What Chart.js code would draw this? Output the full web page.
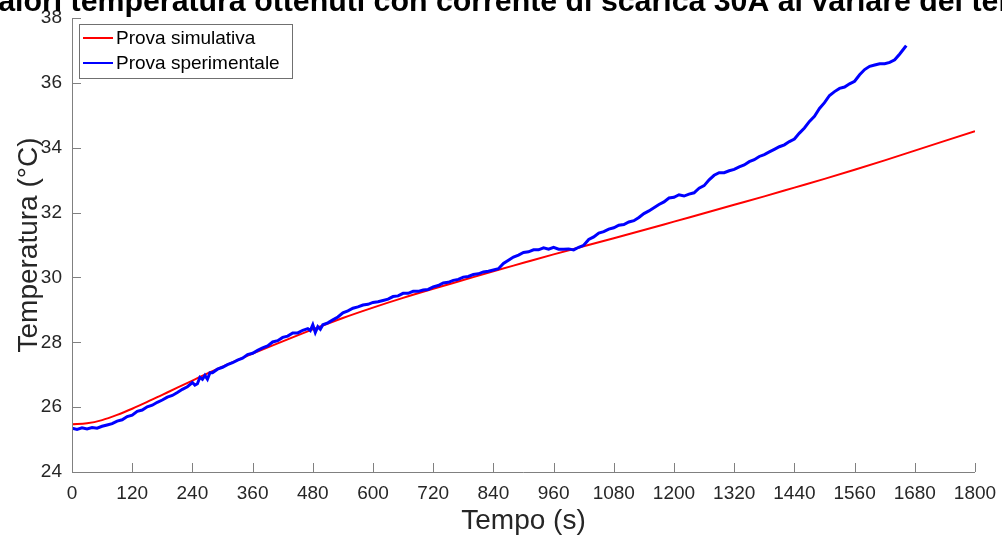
<!DOCTYPE html>
<html>
<head>
<meta charset="utf-8">
<script src="https://cdn.jsdelivr.net/npm/chart.js@4.4.1/dist/chart.umd.min.js"></script>
<style>
  html, body { margin: 0; padding: 0; background: #ffffff; }
  #wrap { width: 1002px; height: 541px; overflow: hidden; }
  canvas { display: block; }
</style>
</head>
<body>
<div id="wrap"><canvas id="c" width="1002" height="541"></canvas></div>
<script>
// Simulated temperature (s, °C)
const timeSim = [0, 30, 60, 90, 120, 150, 180, 210, 240, 270, 300, 360, 420, 480, 540, 600, 660, 720,
  780, 840, 900, 960, 1020, 1080, 1140, 1200, 1260, 1320, 1380, 1440, 1500, 1560, 1620, 1680, 1740, 1800];
const tempSim = [25.47, 25.5, 25.6, 25.76, 25.95, 26.16, 26.38, 26.6, 26.82, 27.04, 27.25, 27.65, 28.03, 28.4, 28.75, 29.07, 29.37, 29.65,
  29.92, 30.19, 30.45, 30.71, 30.96, 31.21, 31.46, 31.72, 31.98, 32.24, 32.5, 32.77, 33.04, 33.32, 33.61, 33.91, 34.21, 34.51];

// Measured temperature (s, °C)
const timeExp = [0, 10, 20, 30, 40, 50, 60, 70, 80, 90, 100, 110, 120, 130, 140, 150, 160, 170, 180, 190, 200,
  210, 220, 230, 240, 245, 250, 255, 260, 265, 270, 275, 280, 290, 300, 310, 320, 330, 340, 350, 360,
  370, 380, 390, 400, 410, 420, 430, 440, 450, 460, 470, 475, 480, 485, 490, 495, 500, 510, 520, 530,
  540, 550, 560, 570, 580, 590, 600, 610, 620, 630, 640, 650, 660, 670, 680, 690, 700, 710, 720, 730,
  740, 750, 760, 770, 780, 790, 800, 810, 820, 830, 840, 850, 860, 870, 880, 890, 900, 910, 920, 930,
  940, 950, 960, 970, 980, 990, 1000, 1010, 1020, 1030, 1040, 1050, 1060, 1070, 1080, 1090, 1100, 1110,
  1120, 1130, 1140, 1150, 1160, 1170, 1180, 1190, 1200, 1210, 1220, 1230, 1240, 1250, 1260, 1270, 1280,
  1290, 1300, 1310, 1320, 1330, 1340, 1350, 1360, 1370, 1380, 1390, 1400, 1410, 1420, 1430, 1440, 1450,
  1460, 1470, 1480, 1490, 1500, 1510, 1520, 1530, 1540, 1550, 1560, 1570, 1580, 1590, 1600, 1610, 1620,
  1630, 1640, 1650, 1660, 1663];
const tempExp = [25.35, 25.31, 25.36, 25.33, 25.37, 25.35, 25.41, 25.45, 25.49, 25.57, 25.61, 25.71, 25.75, 25.87, 25.91, 26.01, 26.06, 26.15, 26.22, 26.31, 26.36,
  26.45, 26.55, 26.63, 26.76, 26.68, 26.72, 26.92, 26.86, 26.98, 26.86, 27.06, 27.06, 27.17, 27.23, 27.31, 27.37, 27.45, 27.51, 27.62, 27.66,
  27.75, 27.83, 27.89, 28.01, 28.05, 28.15, 28.19, 28.29, 28.29, 28.37, 28.42, 28.36, 28.54, 28.3, 28.48, 28.4, 28.54, 28.6, 28.69, 28.78,
  28.91, 28.97, 29.05, 29.09, 29.15, 29.17, 29.23, 29.25, 29.29, 29.33, 29.41, 29.43, 29.51, 29.51, 29.57, 29.57, 29.61, 29.63, 29.71, 29.75,
  29.83, 29.85, 29.91, 29.94, 30.01, 30.03, 30.09, 30.11, 30.17, 30.19, 30.23, 30.27, 30.43, 30.53, 30.63, 30.69, 30.77, 30.79, 30.85, 30.85,
  30.91, 30.87, 30.93, 30.87, 30.87, 30.88, 30.85, 30.93, 30.99, 31.17, 31.25, 31.37, 31.41, 31.49, 31.53, 31.61, 31.63, 31.71,
  31.75, 31.85, 31.97, 32.05, 32.15, 32.25, 32.33, 32.45, 32.47, 32.55, 32.51, 32.57, 32.61, 32.75, 32.83, 33.01, 33.15,
  33.23, 33.23, 33.29, 33.33, 33.41, 33.47, 33.57, 33.63, 33.73, 33.79, 33.87, 33.95, 34.03, 34.09, 34.19, 34.27, 34.45,
  34.61, 34.81, 34.97, 35.21, 35.39, 35.61, 35.73, 35.83, 35.87, 35.97, 36.05, 36.25, 36.41, 36.51, 36.55, 36.59, 36.59,
  36.63, 36.71, 36.89, 37.09, 37.15];

const xTicks = [0, 120, 240, 360, 480, 600, 720, 840, 960, 1080, 1200, 1320, 1440, 1560, 1680, 1800];
const yTicks = [24, 26, 28, 30, 32, 34, 36, 38];

const seriesNames = ['Prova simulativa', 'Prova sperimentale'];
const seriesColors = ['#ff0000', '#0000ff'];
const titleText = 'Valori temperatura ottenuti con corrente di scarica 30A al variare del tempo';
const xTitle = 'Tempo (s)';
const yTitle = 'Temperatura (°C)';

const FONT = "'Liberation Sans', Arial, Helvetica, sans-serif";
const TEXT = '#262626';
const AXIS = '#808080';

const toPoints = (xs, ys) => xs.map((x, i) => ({ x: x, y: ys[i] }));

// Axis lines with inward tick marks, drawn from the chart's own scales
const axesPlugin = {
  id: 'inwardAxes',
  afterDatasetsDraw(chart) {
    const { ctx, chartArea: a, scales } = chart;
    ctx.save();
    ctx.strokeStyle = AXIS;
    ctx.lineWidth = 1;
    ctx.beginPath();
    ctx.moveTo(a.left + 0.5, a.top);
    ctx.lineTo(a.left + 0.5, a.bottom + 0.5);
    ctx.lineTo(a.right, a.bottom + 0.5);
    xTicks.forEach(v => {
      const px = Math.round(scales.x.getPixelForValue(v)) + 0.5;
      ctx.moveTo(px, a.bottom);
      ctx.lineTo(px, a.bottom - 9);
    });
    yTicks.forEach(v => {
      const py = Math.round(scales.y.getPixelForValue(v)) + 0.5;
      ctx.moveTo(a.left, py);
      ctx.lineTo(a.left + 9, py);
    });
    ctx.stroke();
    ctx.restore();
  }
};

// Boxed legend in the upper-left corner of the plot
const legendPlugin = {
  id: 'boxLegend',
  afterDraw(chart) {
    const { ctx } = chart;
    ctx.save();
    ctx.fillStyle = '#ffffff';
    ctx.fillRect(79.5, 24.5, 213, 54);
    ctx.strokeStyle = '#707070';
    ctx.lineWidth = 1;
    ctx.strokeRect(79.5, 24.5, 213, 54);
    ctx.font = '19px ' + FONT;
    ctx.textBaseline = 'middle';
    ctx.textAlign = 'left';
    chart.data.datasets.forEach((ds, i) => {
      const y = 38 + i * 25;
      ctx.strokeStyle = ds.borderColor;
      ctx.lineWidth = 2;
      ctx.beginPath();
      ctx.moveTo(83, y);
      ctx.lineTo(113, y);
      ctx.stroke();
      ctx.fillStyle = '#000000';
      ctx.fillText(ds.label, 116, y + 1);
    });
    ctx.restore();
  }
};

// Bold title above the plot (wider than the canvas, so its ends run off the edges)
const titlePlugin = {
  id: 'topTitle',
  afterDraw(chart) {
    const { ctx, chartArea: a } = chart;
    ctx.save();
    ctx.font = 'bold 30.3px ' + FONT;
    ctx.fillStyle = '#000000';
    ctx.textAlign = 'center';
    ctx.textBaseline = 'alphabetic';
    ctx.fillText(titleText, (a.left + a.right) / 2 - 2.5, 11);
    ctx.restore();
  }
};

new Chart(document.getElementById('c'), {
  type: 'line',
  data: {
    datasets: [
      {
        label: seriesNames[0],
        data: toPoints(timeSim, tempSim),
        borderColor: seriesColors[0],
        borderWidth: 2,
        pointRadius: 0,
        cubicInterpolationMode: 'monotone',
        fill: false,
        order: 1
      },
      {
        label: seriesNames[1],
        data: toPoints(timeExp, tempExp),
        borderColor: seriesColors[1],
        borderWidth: 3,
        pointRadius: 0,
        tension: 0,
        fill: false,
        order: 0
      }
    ]
  },
  options: {
    responsive: false,
    animation: false,
    devicePixelRatio: 1,
    layout: { padding: { top: 18, right: 27, left: 0, bottom: 0 } },
    plugins: { legend: { display: false }, tooltip: { enabled: false }, title: { display: false } },
    scales: {
      x: {
        type: 'linear',
        min: 0,
        max: 1800,
        afterBuildTicks: s => { s.ticks = xTicks.map(v => ({ value: v })); },
        afterFit: s => { s.height = 69; s.paddingLeft = 0; s.paddingRight = 0; },
        grid: { display: false, drawTicks: false },
        border: { display: false },
        ticks: { font: { family: FONT, size: 19 }, color: TEXT, padding: 10, maxRotation: 0, autoSkip: false,
          callback: v => String(v) },
        title: { display: true, text: xTitle, font: { family: FONT, size: 28 }, color: TEXT, padding: { top: 0, bottom: 3 } }
      },
      y: {
        type: 'linear',
        min: 24,
        max: 38,
        afterBuildTicks: s => { s.ticks = yTicks.map(v => ({ value: v })); },
        afterFit: s => { s.width = 72; s.paddingTop = 0; s.paddingBottom = 0; },
        grid: { display: false, drawTicks: false },
        border: { display: false },
        ticks: { font: { family: FONT, size: 19 }, color: TEXT, padding: 10, autoSkip: false,
          callback: v => String(v) },
        title: { display: true, text: yTitle, font: { family: FONT, size: 28 }, color: TEXT, padding: { top: 12, bottom: 0 } }
      }
    }
  },
  plugins: [axesPlugin, legendPlugin, titlePlugin]
});
</script>
</body>
</html>
